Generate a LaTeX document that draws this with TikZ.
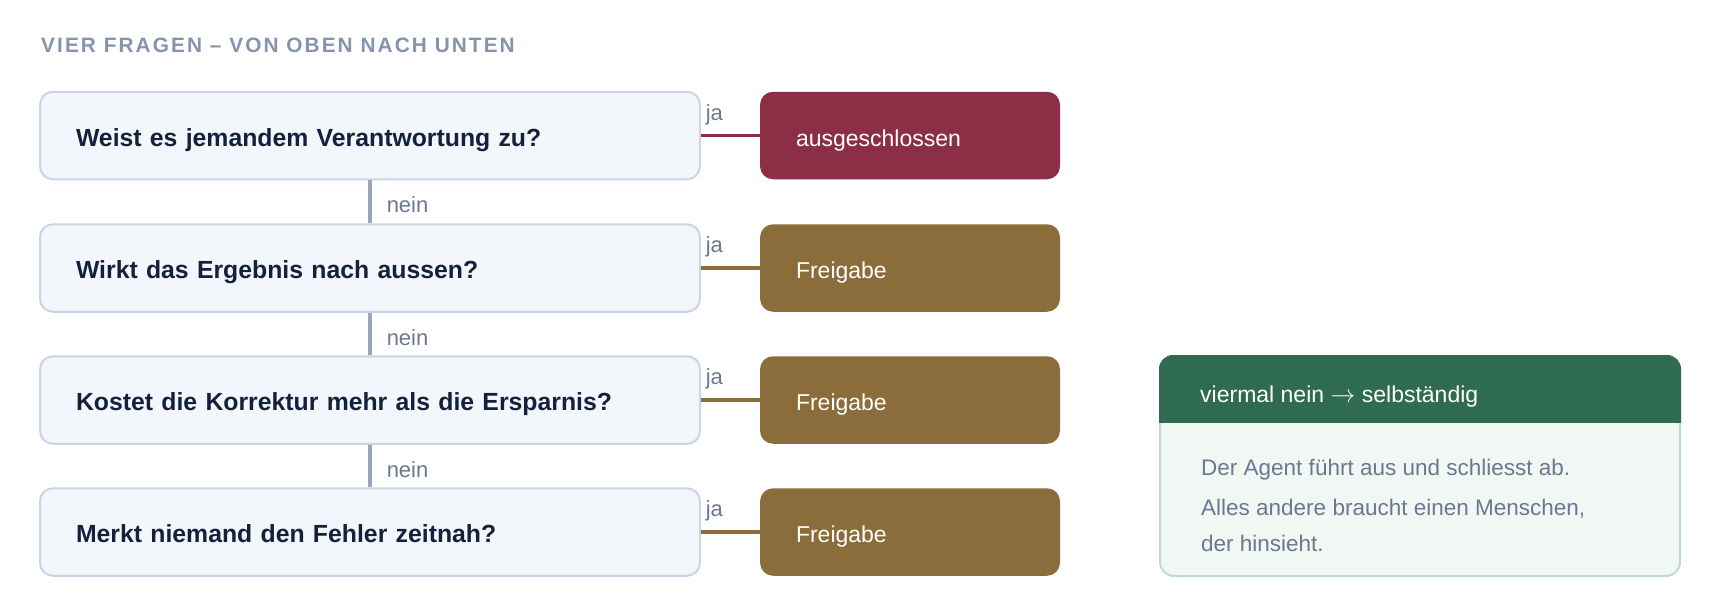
\documentclass[tikz,border=0pt]{standalone}
\usepackage{fontspec}
\setmainfont{Liberation Sans}
\definecolor{qfill}{HTML}{F3F6FB}
\definecolor{qborder}{HTML}{C8D5E6}
\definecolor{qtext}{HTML}{14213D}
\definecolor{ored}{HTML}{8B2E46}
\definecolor{obrown}{HTML}{8A6D3B}
\definecolor{vline}{HTML}{9BA6B8}
\definecolor{lblgray}{HTML}{6B7891}
\definecolor{titlegray}{HTML}{8593AC}
\definecolor{ghead}{HTML}{2F6B50}
\definecolor{gfill}{HTML}{F1F7F3}
\definecolor{gborder}{HTML}{BDDCCB}
\definecolor{btext}{HTML}{6A7890}
\begin{document}
\begin{tikzpicture}[x=1pt,y=-1pt,
  qbox/.style={draw=qborder, line width=2pt, fill=qfill, rounded corners=13pt,
    minimum width=660pt, minimum height=87.5pt, inner xsep=36pt, inner ysep=0pt,
    text width=588pt, align=left, text height=21pt, text depth=0pt,
    font=\fontsize{24.8}{30}\selectfont\bfseries, text=qtext},
  obox/.style={rounded corners=13pt, minimum width=300pt, minimum height=87.5pt,
    inner xsep=36pt, inner ysep=0pt, text width=228pt, align=left,
    text height=21pt, text depth=0pt, font=\fontsize{23}{28}\selectfont, text=white},
  redbox/.style={obox, fill=ored},
  brownbox/.style={obox, fill=obrown},
  lbl/.style={inner sep=0pt, font=\fontsize{22}{26}\selectfont, text=lblgray},
  jalbl/.style={lbl, pos=0, anchor=base west, xshift=3pt, yshift=15.5pt},
  neinlbl/.style={lbl, pos=0, anchor=base west, xshift=15pt, yshift=-32.7pt},
  yesred/.style={draw=ored, line width=3.5pt},
  yesbrown/.style={draw=obrown, line width=3.5pt},
  noline/.style={draw=vline, line width=3.5pt},
  titlestyle/.style={inner sep=0pt, anchor=base west, text=titlegray,
    font=\fontsize{20.8}{24}\selectfont\bfseries\addfontfeature{LetterSpace=10}},
  gbox/.style={draw=gborder, line width=2pt, fill=gfill, rounded corners=14pt,
    minimum width=520pt, minimum height=220pt, inner sep=0pt},
  headtext/.style={inner sep=0pt, anchor=base west, text=white, font=\fontsize{23}{28}\selectfont},
  bodytext/.style={inner sep=0pt, anchor=base west, text=btext, font=\fontsize{22.5}{35.5}\selectfont}
]
\useasboundingbox (0,0) rectangle (1720,600);

\node[titlestyle] (title) at (41,52.3) {VIER FRAGEN – VON OBEN NACH UNTEN};

\node[qbox] (q1) at (370,135.5) {Weist es jemandem Verantwortung zu?};
\node[qbox] (q2) at (370,268) {Wirkt das Ergebnis nach aussen?};
\node[qbox] (q3) at (370,400) {Kostet die Korrektur mehr als die Ersparnis?};
\node[qbox] (q4) at (370,532) {Merkt niemand den Fehler zeitnah?};

\node[redbox] (o1) at (910,135.5) {ausgeschlossen};
\node[brownbox] (o2) at (910,268) {Freigabe};
\node[brownbox] (o3) at (910,400) {Freigabe};
\node[brownbox] (o4) at (910,532) {Freigabe};

\draw[yesred] (q1.east) -- node[jalbl] (j1) {ja} (o1.west);
\draw[yesbrown] (q2.east) -- node[jalbl] (j2) {ja} (o2.west);
\draw[yesbrown] (q3.east) -- node[jalbl] (j3) {ja} (o3.west);
\draw[yesbrown] (q4.east) -- node[jalbl] (j4) {ja} (o4.west);

\draw[noline] (q1.south) -- node[neinlbl] (n1) {nein} (q2.north);
\draw[noline] (q2.south) -- node[neinlbl] (n2) {nein} (q3.north);
\draw[noline] (q3.south) -- node[neinlbl] (n3) {nein} (q4.north);

\node[gbox] (g) at (1420,466) {};
\begin{scope}
  \clip (g.north west) rectangle ([yshift=-67pt]g.north east);
  \fill[ghead, rounded corners=14pt] (g.north west) rectangle (g.south east);
\end{scope}
\node[headtext] (gh) at (1200,402) {viermal nein $\rightarrow$ selbständig};
\node[bodytext] (gb) at (1201,475.7) {\parbox[t]{460pt}{\raggedright Der Agent führt aus und schliesst ab.\\[4.5pt]Alles andere braucht einen Menschen,\\der hinsieht.}};
\end{tikzpicture}
\end{document}
